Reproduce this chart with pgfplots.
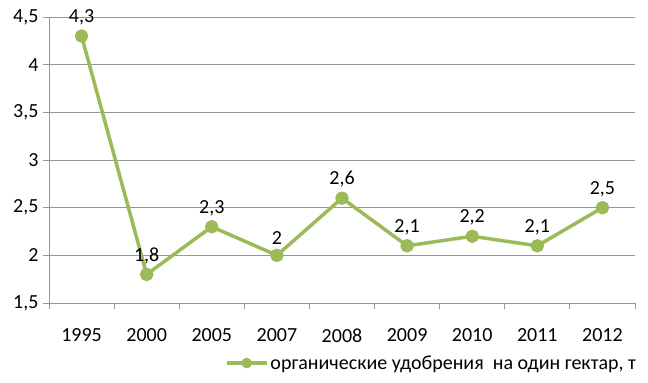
\documentclass[border=0pt]{standalone}
\usepackage{pgfplots}
\pgfplotsset{compat=1.18}
\usepackage{fontspec}
\setmainfont{Carlito}
\definecolor{lineg}{RGB}{155,187,89}
\definecolor{gridg}{RGB}{150,150,150}
\begin{document}
\begin{tikzpicture}
\useasboundingbox (-49bp,-80bp) rectangle (599bp,303bp);
\begin{axis}[
  at={(0,0)}, anchor=south west,
  scale only axis, width=586bp, height=286bp,
  xmin=-0.5, xmax=8.5, ymin=1.5, ymax=4.5,
  ytick={1.5,2,...,4.5},
  xtick={0,...,8},
  xticklabels={1995,2000,2005,2007,2008,2009,2010,2011,2012},
  minor xtick={-0.5,0.5,...,8.5},
  axis x line*=bottom, axis y line*=left,
  axis line style={gridg, line width=0.8pt},
  tick align=outside,
  major tick length=6bp,
  x tick style={draw=none},
  minor x tick style={draw=gridg, line width=0.8pt},
  minor tick length=6bp,
  y tick style={gridg, line width=0.8pt},
  ymajorgrids, grid style={gridg, line width=0.8pt},
  /pgf/number format/use comma,
  /pgf/number format/assume math mode=true,
  ticklabel style={font=\fontsize{20bp}{24bp}\selectfont, black},
  yticklabel style={xshift=-1bp},
  xticklabel style={yshift=-16bp},
  nodes near coords,
  every node near coord/.append style={font=\fontsize{20bp}{24bp}\selectfont, black, anchor=south, inner sep=0pt, yshift=9bp},
  legend style={at={(0.300,-0.21)}, anchor=west, draw=none, fill=none,
    font=\fontsize{20bp}{24bp}\selectfont, inner sep=0pt},
  legend image code/.code={
    \draw[lineg, line width=3.5bp] (0bp,0bp) -- (40bp,0bp);
    \fill[lineg] (20bp,0bp) circle (3.5bp);
  },
]
\addplot[lineg, line width=3.5bp, line join=round, mark=*, mark size=5bp, mark options={fill=lineg, draw=none}]
  coordinates {(0,4.3) (1,1.8) (2,2.3) (3,2.0) (4,2.6) (5,2.1) (6,2.2) (7,2.1) (8,2.5)};
\addlegendentry{органические удобрения\ \ на один гектар, т}
\end{axis}
\end{tikzpicture}
\end{document}
